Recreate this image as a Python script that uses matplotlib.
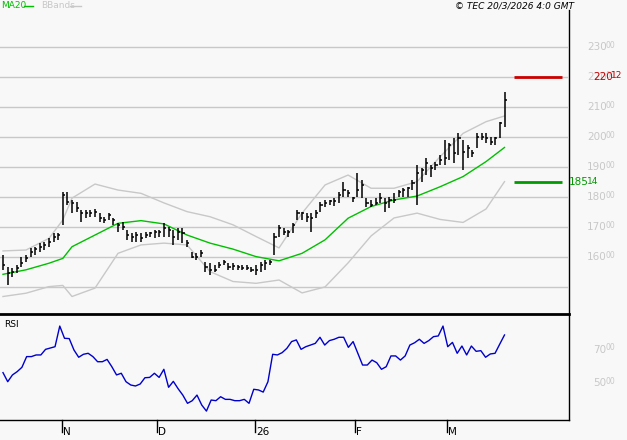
import numpy as np
import matplotlib
matplotlib.use("Agg")
import matplotlib.pyplot as plt

high = [160.7,156.8,156.2,157.3,160.1,160.7,162.9,163.4,164.6,165.1,166.2,167.9,167.9,181.8,181.8,179,178.4,175.7,175.7,175.7,
        175.9,174.6,173.4,174.8,172.9,171.2,171.8,169,167.9,168.4,167.9,168.4,168.4,169,169,171.2,170.1,169,169.6,169.6,
        165.7,161.8,161.2,162.3,158.4,157.9,157.3,158.4,159,157.9,157.9,157.3,157.3,157.3,156.8,157.3,158.4,159,159,167.9,
        170.7,169.6,169,171.2,175.7,175.1,174.6,174.6,175.7,178.4,179,179,179.5,181.5,185.1,182.3,180.1,187.9,185.7,179.6,
        179,179.6,181.2,179.6,180.1,181.2,182.3,182.9,183.4,185.7,190.7,189.6,192.9,190.7,191.8,194,199,197.9,199.6,201.2,
        199,197.3,195.7,201.2,201.2,201.2,200.1,200.1,205.1,215.1]
low = [155.7,150.7,153.4,154.5,156.8,158.4,160.1,160.7,161.8,162.3,163.4,165.1,165.7,170.7,177.3,174.6,175.1,171.8,172.9,173.4,
       173.4,171.8,171.2,172.3,170.7,168.4,169,165.7,165.1,165.1,165.1,166.2,166.8,166.2,166.8,166.8,166.8,164,165.7,164.6,
       163.4,159.6,159,160.1,155.1,154,155.1,156.2,157.3,155.7,155.7,155.7,155.7,155.7,155.1,154,155.1,155.7,157.3,160.7,
       166.8,167.3,166.8,167.9,172.3,172.3,171.8,168.4,172.9,175.1,176.8,177.3,177,178,180.1,180.1,178.4,180.1,179.6,176.8,
       176.8,177.3,177.9,175.1,176.2,177.9,180.1,180.1,180.1,182.3,177.3,185.1,187.3,186.8,189,190.7,190.7,192.3,191.2,194,
       189,192.9,193.4,196.2,199,197.9,197.3,197.3,199.6,203.4]
close = [157.3,154.5,155,156.2,157.9,159.6,161.8,162.5,163.4,164,165,166.8,167.3,180.7,178.4,177.9,176.2,174.6,174.6,174.8,
         175.1,172.9,172.3,174,172.3,170.7,170.1,167.3,166.8,167.3,166.2,167.3,167.9,168.4,168.4,169.6,169,166.8,168.4,167.9,
         164.6,160.1,160.1,161.2,156.8,155.7,155.7,157.3,158.4,156.8,157,156.8,156.2,156.2,155.7,155.7,157.3,157.9,158.4,166.8,
         169.6,168.4,168.4,170.7,174.6,174.6,173.4,172.9,174.6,177.3,178,178.5,178.8,180.5,182.3,181.2,179.6,182.3,184,177.9,
         177.3,177.9,179.6,177.9,179,179,181.8,182.3,182.9,184.6,187.9,189,191.2,189.6,190.7,192.3,192.9,197.3,194.6,199.6,
         195.1,196.2,194.6,200.1,200.1,199.6,198.4,199.6,204.6,212.3]

band_idx = [0,5,10,13,15,20,25,30,35,40,45,50,55,60,65,70,75,80,85,90,95,100,105,109]
ma20 =  [154.2,155.7,157.9,159.5,163.4,167.3,171.2,172.1,171,167.3,164.6,162.6,160.1,158.7,161.2,165.7,172.9,176.8,179,180.3,183.4,186.8,191.8,196.5]
upper = [162,162.3,166.2,172.3,179.6,184.3,182.3,181.2,178,175.1,173.4,170.7,166.8,163,174.6,184,187.3,182.9,182.9,185.1,193.4,201.2,205.1,207]
lower = [146.8,147.9,150.1,150.5,146.8,149.6,161.2,164,164.6,164,155.1,151.8,151.2,152.3,148,150,158,167,173,174.6,172.5,171.5,176,185.1]

rsi = [56.3,50.8,54.9,56.9,59.5,66,66,67,67,70.4,71.2,72,84.5,77.1,76.9,70,65.6,67.4,68,66,
       62.9,62.9,64.3,59.9,54.9,55.9,50.8,48.8,48.2,49.4,53.2,53.4,55.9,53.4,58.3,47.4,51,46.6,42.7,37.7,
       39.3,42.7,36.7,33,39.7,39.3,41.7,40.1,40.1,39.3,39.3,40.1,37.7,46.2,45.8,44.5,50.8,67.4,67,68.4,
       71,75.1,76.1,70.4,72,73,74,77.7,73,75.7,76.5,77.7,77.7,71.6,75.1,68,60.9,60.9,63.9,62.3,
       58.3,59.9,66.4,66.4,63.9,66.4,73,74.4,76.5,74,75.7,78.1,78.5,84.5,72,74.6,68,72.4,67,72.4,
       69.2,69.6,65.6,67.6,68,73.6,79.1]

month_labels = ["N", "D", "26", "F", "M"]
month_pos = [12.8, 33.5, 54.8, 76.5, 96.5]
price_ticks = [160, 170, 180, 190, 200, 210, 220, 230]
rsi_ticks = [50, 70]
resistance = 220.12
support = 185.14

W, H = 627, 440
bg = "#f8f8f8"
fig = plt.figure(figsize=(W/100, H/100), dpi=100, facecolor=bg)
XL = (-0.65, 122.8)
ax = fig.add_axes([0, 1-313/H, 568/W, (313-17)/H], facecolor=bg)
ax2 = fig.add_axes([0, 1-420/H, 568/W, (420-315)/H], facecolor=bg)
for a in (ax, ax2):
    a.set_xlim(*XL)
    a.set_xticks([]); a.set_yticks([])
    for s in a.spines.values():
        s.set_visible(False)
ax.set_ylim(141.3, 240)
ax2.set_ylim(27.6, 91.2)

for p in [150] + price_ticks:
    ax.axhline(p, color="#c8c8c8", lw=1, zorder=0)

x = np.arange(len(close))
ax.vlines(x, low, high, color="black", lw=1.1, zorder=3)
ax.hlines(close, x, x+0.45, color="black", lw=1.1, zorder=3)
ax.plot(band_idx, upper, color="#c8c8c8", lw=1, zorder=2)
ax.plot(band_idx, lower, color="#c8c8c8", lw=1, zorder=2)
ax.plot(band_idx, ma20, color="#00c000", lw=1, zorder=2)
ax.hlines(resistance, 111, 121.5, color="#cc0000", lw=2)
ax.hlines(support, 111, 121.5, color="#009900", lw=2)

rx = np.linspace(0, len(close)-1, len(rsi))
ax2.plot(rx, rsi, color="#0000cc", lw=1)
ax2.text(0.3, 88, "RSI", fontsize=6.5, va="top")

fig.add_artist(plt.Line2D([569/W]*2, [1-420/H, 1-10/H], color="black", lw=1))
fig.add_artist(plt.Line2D([0, 569/W], [1-314/H]*2, color="black", lw=2))
fig.add_artist(plt.Line2D([0, 569/W], [1-420/H]*2, color="black", lw=1))
for lab, pos in zip(month_labels, month_pos):
    xf = (3 + 4.6*pos)/W
    fig.add_artist(plt.Line2D([xf]*2, [1-432/H, 1-420/H], color="black", lw=1))
    fig.text(xf+1/W, 1-437/H, lab, fontsize=7.5, va="bottom", ha="left")

def py(p):
    return 1 - (47 + (230-p)*3)/H
gray = "#c8c8c8"
for p in price_ticks:
    fig.text(587/W, py(p), str(p), color=gray, fontsize=7.5, va="center")
    fig.text(605/W, py(p)+2/H, "00", color=gray, fontsize=5.5, va="center")
for r in rsi_ticks:
    yy = 1 - (350 + (70-r)/0.606)/H
    fig.text(593/W, yy, str(r), color=gray, fontsize=7.5, va="center")
    fig.text(605/W, yy+2/H, "00", color=gray, fontsize=5.5, va="center")
fig.text(593/W, py(resistance), "220", color="#cc0000", fontsize=7.5, va="center")
fig.text(611/W, py(resistance)+1/H, "12", color="#cc0000", fontsize=6.5, va="center")
fig.text(569/W, py(support), "185", color="#009900", fontsize=7.5, va="center")
fig.text(587/W, py(support), "14", color="#009900", fontsize=6.5, va="center")

fig.text(1/W, 1-6/H, "MA20", color="#00c000", fontsize=6.5, va="center")
fig.add_artist(plt.Line2D([24/W, 33/W], [1-6/H]*2, color="#00c000", lw=1))
fig.text(41/W, 1-6/H, "BBands", color=gray, fontsize=6.5, va="center")
fig.add_artist(plt.Line2D([70/W, 81/W], [1-6/H]*2, color=gray, lw=1))
fig.text(574/W, 1-6/H, "© TEC 20/3/2026 4:0 GMT", fontsize=6.5, va="center", ha="right", style="italic")

fig.savefig("out.png", dpi=100, facecolor=bg)
